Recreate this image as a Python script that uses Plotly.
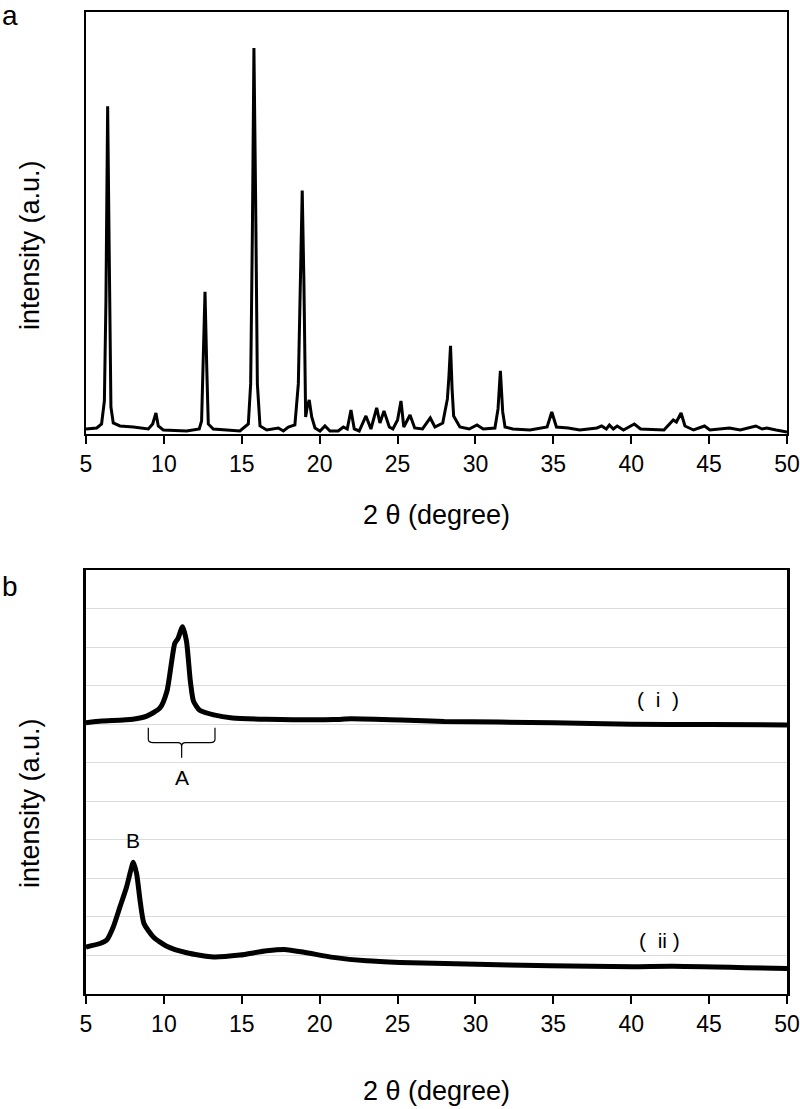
import plotly.graph_objects as go
from plotly.subplots import make_subplots

# ---- panel a: XRD pattern (2theta, intensity a.u.) ----
theta_a = [5.0, 5.69, 6.0, 6.18, 6.28, 6.39, 6.5, 6.6, 6.75, 7.18, 8.04, 9.0, 9.28, 9.49, 9.64, 9.96,
           11.46, 12.27, 12.42, 12.53, 12.64, 12.75, 12.85, 13.17, 14.88, 15.42, 15.57, 15.68, 15.78,
           15.89, 16.0, 16.17, 16.6, 17.35, 17.67, 17.99, 18.41, 18.63, 18.78, 18.88, 18.99, 19.1,
           19.2, 19.33, 19.49, 19.7, 20.02, 20.34, 20.66, 21.19, 21.52, 21.77, 22.01, 22.22, 22.54,
           22.97, 23.29, 23.66, 23.87, 24.13, 24.47, 24.7, 25.0, 25.22, 25.4, 25.8, 26.1, 26.6, 27.1,
           27.4, 27.9, 28.2, 28.3, 28.4, 28.5, 28.6, 29.0, 29.6, 30.1, 30.5, 31.25, 31.45, 31.6, 31.75,
           31.9, 32.4, 33.5, 34.6, 34.9, 35.2, 35.96, 36.7, 37.8, 38.1, 38.4, 38.6, 38.85, 39.1, 39.5,
           40.2, 40.6, 42.1, 42.7, 42.9, 43.2, 43.45, 44.0, 44.7, 45.05, 46.3, 47.0, 48.0, 48.4, 48.7,
           49.3, 49.9, 50.0]
int_a = [5, 6, 10, 33, 133, 327, 167, 27, 11, 8, 7, 5, 10, 21, 8, 4,
         3, 5, 13, 67, 142, 67, 10, 5, 3, 10, 50, 200, 385,
         233, 50, 8, 4, 6, 3, 7, 9, 50, 167, 243, 150, 17,
         27, 34, 17, 6, 3, 8, 3, 3, 7, 5, 24, 5, 3,
         18, 5, 26, 11, 23, 7, 5, 14, 33, 7, 19, 6, 5, 16,
         7, 11, 35, 58, 88, 45, 18, 7, 5, 9, 5, 6, 25, 63, 22,
         7, 5, 4, 7, 22, 7, 6, 4, 6, 8, 5, 9, 5, 8, 4,
         10, 5, 4, 14, 12, 21, 8, 4, 8, 4, 6, 4, 8, 5, 6,
         4, 2, 2]

# ---- panel b: curves (i) and (ii) ----
theta_i = [5.0, 6.0, 8.0, 8.9, 9.75, 10.2, 10.5, 10.7, 10.9, 11.2, 11.45, 11.7, 11.9, 12.3, 13.2,
           14.4, 16.6, 20.9, 22.0, 25.2, 28.0, 35.0, 40.0, 45.0, 50.0]
int_i = [7.04, 7.08, 7.13, 7.21, 7.42, 7.86, 8.63, 9.10, 9.22, 9.53, 9.15, 8.11, 7.60, 7.36, 7.24,
         7.16, 7.13, 7.12, 7.14, 7.11, 7.07, 7.04, 7.00, 6.99, 6.98]

theta_ii = [5.0, 5.9, 6.33, 6.75, 7.18, 7.6, 7.87, 8.04, 8.25, 8.47, 8.72, 9.32, 10.18, 11.46, 13.17,
            14.88, 16.6, 17.88, 19.17, 20.88, 23.0, 25.15, 29.4, 34.8, 40.1, 42.7, 50.0]
int_ii = [1.22, 1.31, 1.40, 1.74, 2.26, 2.77, 3.20, 3.42, 3.12, 2.43, 1.83, 1.48, 1.24, 1.07, 0.96,
          1.01, 1.12, 1.15, 1.07, 0.95, 0.86, 0.82, 0.78, 0.73, 0.71, 0.72, 0.66]

x_ticks = [5, 10, 15, 20, 25, 30, 35, 40, 45, 50]

FONT = "Liberation Sans, Arial, sans-serif"

fig = make_subplots(rows=2, cols=1, vertical_spacing=0.0)

fig.add_trace(go.Scatter(x=theta_a, y=int_a, mode="lines",
                         line=dict(color="black", width=3), showlegend=False), row=1, col=1)
fig.add_trace(go.Scatter(x=theta_i, y=int_i, mode="lines", line_shape="spline",
                         line=dict(color="black", width=5, smoothing=0.6), showlegend=False), row=2, col=1)
fig.add_trace(go.Scatter(x=theta_ii, y=int_ii, mode="lines", line_shape="spline",
                         line=dict(color="black", width=5, smoothing=0.6), showlegend=False), row=2, col=1)

xax = dict(range=[5, 50], tickvals=x_ticks, ticks="outside", ticklen=8, tickwidth=1.5,
           tickcolor="black", showline=True, linecolor="black", mirror=True, showgrid=False,
           zeroline=False, automargin=False, tickfont=dict(family=FONT, size=23, color="black"))
# overlay axes that only draw the short inner part of each tick (ticks cross the axis line)
xin = dict(range=[5, 50], tickvals=x_ticks, ticks="inside", ticklen=4, tickwidth=1.5,
           tickcolor="black", showticklabels=False, showline=False, showgrid=False,
           zeroline=False, automargin=False, side="bottom")
fig.update_layout(
    xaxis=dict(xax, linewidth=1.8),
    xaxis2=dict(xax, linewidth=2),
    xaxis3=dict(xin, overlaying="x", anchor="y"),
    xaxis4=dict(xin, overlaying="x2", anchor="y2"),
    yaxis=dict(domain=[0.57026, 1.0], range=[0, 421], showticklabels=False, ticks="",
               showline=True, linecolor="black", linewidth=1.5, mirror=True, showgrid=False,
               zeroline=False, automargin=False),
    yaxis2=dict(domain=[0.0, 0.43177], range=[0, 11], dtick=1, tick0=0, showticklabels=False,
                ticks="", showline=True, linecolor="black", linewidth=2.5, mirror=True,
                showgrid=True, gridcolor="#dcdcdc", gridwidth=1, zeroline=False, automargin=False),
)

ann = []
# y-axis titles
for yp in (0.7627, 0.1945):
    ann.append(dict(text="intensity (a.u.)", xref="paper", yref="paper", x=-0.0799, y=yp,
                    xanchor="center", yanchor="middle", textangle=-90, showarrow=False,
                    font=dict(family=FONT, size=27, color="black")))
# x-axis titles
for yp in (0.4878, -0.0988):
    ann.append(dict(text="2 θ (degree)", xref="paper", yref="paper", x=0.5, y=yp,
                    xanchor="center", yanchor="middle", showarrow=False,
                    font=dict(family=FONT, size=27, color="black")))
# panel letters
ann.append(dict(text="a", xref="paper", yref="paper", x=-0.1227, y=0.9967, xanchor="left",
                yanchor="middle", showarrow=False, font=dict(family=FONT, size=28, color="black")))
ann.append(dict(text="b", xref="paper", yref="paper", x=-0.1227, y=0.4145, xanchor="left",
                yanchor="middle", showarrow=False, font=dict(family=FONT, size=28, color="black")))
# curve labels
lab_font = dict(family=FONT, size=21, color="black")
ann.append(dict(text="(\u00a0\u00a0i\u00a0\u00a0)", xref="x2", yref="y2", x=41.7, y=7.65,
                showarrow=False, font=lab_font))
ann.append(dict(text="(\u00a0\u00a0ii\u00a0)", xref="x2", yref="y2", x=41.8, y=1.40,
                showarrow=False, font=lab_font))
ann.append(dict(text="A", xref="x2", yref="y2", x=11.14, y=5.62, showarrow=False, font=lab_font))
ann.append(dict(text="B", xref="x2", yref="y2", x=8.04, y=3.98, showarrow=False, font=lab_font))
fig.update_layout(annotations=ann)

# bracket under peak A
bx0, bx1, bxm = 9.0, 13.28, 11.14
by_top, by_mid, by_bot = 6.91, 6.52, 6.13
path = (f"M {bx0},{by_top} L {bx0},{by_mid + 0.08} Q {bx0},{by_mid} {bx0 + 0.3},{by_mid} "
        f"L {bxm - 0.25},{by_mid} Q {bxm},{by_mid} {bxm},{by_mid - 0.1} L {bxm},{by_bot} "
        f"M {bxm},{by_mid - 0.1} Q {bxm},{by_mid} {bxm + 0.25},{by_mid} "
        f"L {bx1 - 0.3},{by_mid} Q {bx1},{by_mid} {bx1},{by_mid + 0.08} L {bx1},{by_top}")
fig.add_shape(type="path", path=path, xref="x2", yref="y2",
              line=dict(color="black", width=1.2))

fig.update_layout(width=800, height=1109, autosize=False,
                  margin=dict(l=86, r=13, t=12, b=115, autoexpand=False),
                  paper_bgcolor="white", plot_bgcolor="white",
                  font=dict(family=FONT, color="black"))

fig.write_html("out.html", config={"responsive": False})
